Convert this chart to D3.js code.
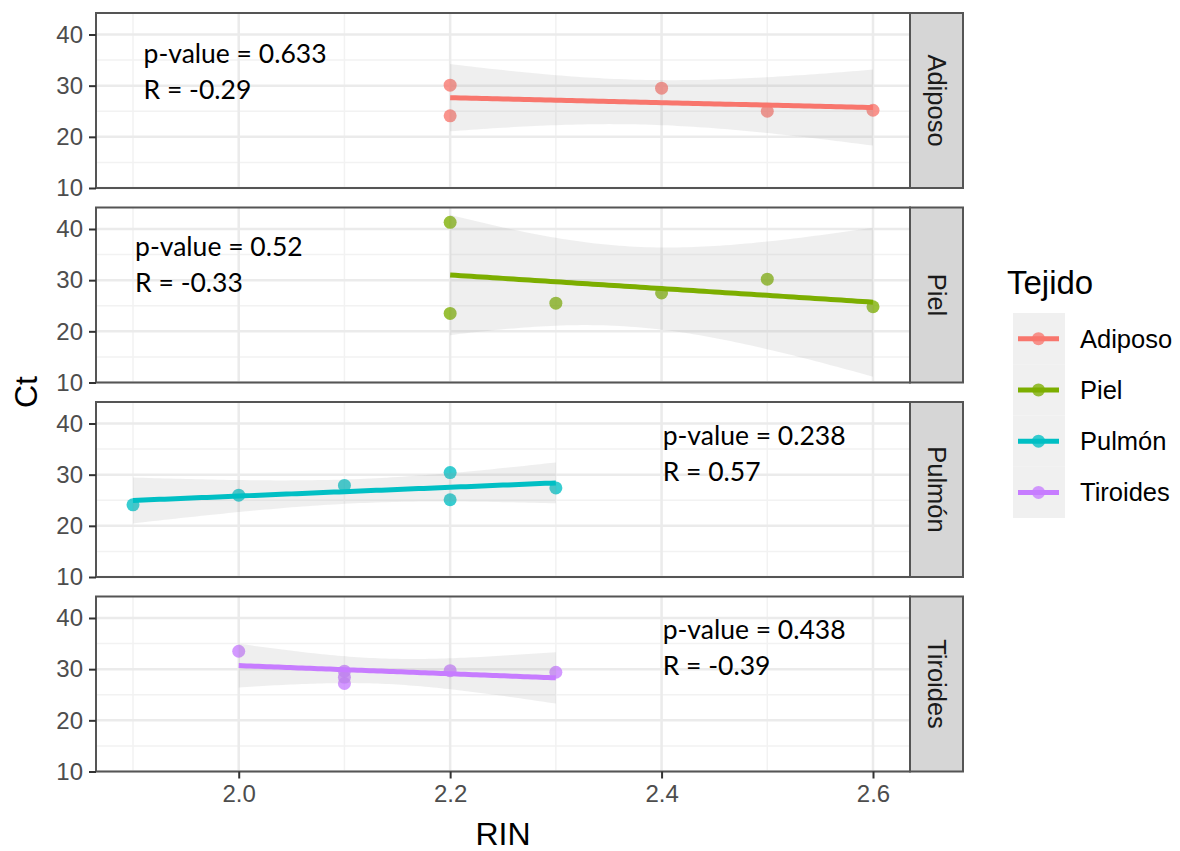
<!DOCTYPE html>
<html>
<head>
<meta charset="utf-8">
<script src="https://cdn.jsdelivr.net/npm/d3@7"></script>
<style>
  body { margin: 0; background: #fff; }
  text { font-family: "Liberation Sans", Arial, sans-serif; }
  .note { font-family: Lato, "Open Sans", sans-serif; }
</style>
</head>
<body>
<div id="wrapper"></div>
<script>
// 1. Data
const tissues = ['Adiposo', 'Piel', 'Pulmón', 'Tiroides']
const colors = ['#F8766D', '#7CAE00', '#00BFC4', '#C77CFF']

const rinAdiposo = [2.2, 2.2, 2.4, 2.5, 2.6]
const ctAdiposo = [30.1, 24.1, 29.5, 25.0, 25.2]
const rinPiel = [2.2, 2.2, 2.3, 2.4, 2.5, 2.6]
const ctPiel = [41.3, 23.5, 25.5, 27.5, 30.2, 24.8]
const rinPulmon = [1.9, 2.0, 2.1, 2.2, 2.2, 2.3]
const ctPulmon = [24.1, 26.0, 27.9, 30.4, 25.1, 27.4]
const rinTiroides = [2.0, 2.1, 2.1, 2.1, 2.2, 2.3]
const ctTiroides = [33.5, 29.6, 28.4, 27.2, 29.7, 29.4]

const pValues = ['0.633', '0.52', '0.238', '0.438']
const rValues = ['-0.29', '-0.33', '0.57', '-0.39']

const xTicks = [2.0, 2.2, 2.4, 2.6]
const xMinor = [1.9, 2.1, 2.3, 2.5]
const yTicks = [10, 20, 30, 40]
const yMinor = [15, 25, 35]

const series = [
  { rin: rinAdiposo, ct: ctAdiposo },
  { rin: rinPiel, ct: ctPiel },
  { rin: rinPulmon, ct: ctPulmon },
  { rin: rinTiroides, ct: ctTiroides }
]

// where the p-value / R notes sit, in RIN / Ct units
const notePos = [
  { x: 1.910, y: 34.4 },
  { x: 1.902, y: 34.7 },
  { x: 2.401, y: 35.8 },
  { x: 2.401, y: 35.9 }
]

// 2. Dimensions
let dimensions = {
  width: 1180,
  height: 851,
  panelLeft: 96,
  panelRight: 910,
  panelTop: 13,
  panelHeight: 175,
  panelStep: 194.5,
  stripWidth: 53
}

// linear fit + 95% band, like geom_smooth(method = "lm")
const tTable = { 3: 3.182, 4: 2.776, 5: 2.571 }
function lmBand(xs, ys) {
  const n = xs.length
  const mx = d3.mean(xs), my = d3.mean(ys)
  const sxx = d3.sum(xs, x => (x - mx) ** 2)
  const sxy = d3.sum(xs, (x, i) => (x - mx) * (ys[i] - my))
  const slope = sxy / sxx
  const icpt = my - slope * mx
  const sse = d3.sum(xs, (x, i) => (ys[i] - (icpt + slope * x)) ** 2)
  const s = Math.sqrt(sse / (n - 2))
  const t = tTable[n - 2]
  const [x0, x1] = d3.extent(xs)
  return d3.range(81).map(k => {
    const x = x0 + (x1 - x0) * k / 80
    const fit = icpt + slope * x
    const se = s * Math.sqrt(1 / n + (x - mx) ** 2 / sxx)
    return { x, fit, lo: fit - t * se, hi: fit + t * se }
  })
}

// 3. Canvas
const svg = d3.select('#wrapper')
  .append('svg')
    .attr('width', dimensions.width)
    .attr('height', dimensions.height)

const defs = svg.append('defs')

const xScale = d3.scaleLinear()
  .domain([1.865, 2.635])
  .range([dimensions.panelLeft, dimensions.panelRight])

tissues.forEach((name, i) => {
  const top = dimensions.panelTop + i * dimensions.panelStep
  const bottom = top + dimensions.panelHeight
  const yScale = d3.scaleLinear()
    .domain([10, 44.2])
    .range([bottom, top])

  defs.append('clipPath').attr('id', `clip${i}`)
    .append('rect')
      .attr('x', dimensions.panelLeft).attr('y', top)
      .attr('width', dimensions.panelRight - dimensions.panelLeft)
      .attr('height', dimensions.panelHeight)

  const g = svg.append('g')

  // grid
  g.selectAll('.minor-y').data(yMinor).enter().append('line')
    .attr('x1', dimensions.panelLeft).attr('x2', dimensions.panelRight)
    .attr('y1', d => yScale(d)).attr('y2', d => yScale(d))
    .attr('stroke', '#F2F2F2').attr('stroke-width', 1.5)
  g.selectAll('.minor-x').data(xMinor).enter().append('line')
    .attr('x1', d => xScale(d)).attr('x2', d => xScale(d))
    .attr('y1', top).attr('y2', bottom)
    .attr('stroke', '#F2F2F2').attr('stroke-width', 1.5)
  g.selectAll('.major-y').data(yTicks).enter().append('line')
    .attr('x1', dimensions.panelLeft).attr('x2', dimensions.panelRight)
    .attr('y1', d => yScale(d)).attr('y2', d => yScale(d))
    .attr('stroke', '#EBEBEB').attr('stroke-width', 2.5)
  g.selectAll('.major-x').data(xTicks).enter().append('line')
    .attr('x1', d => xScale(d)).attr('x2', d => xScale(d))
    .attr('y1', top).attr('y2', bottom)
    .attr('stroke', '#EBEBEB').attr('stroke-width', 2.5)

  // 4. Draw data
  const s = series[i]
  const pts = s.rin.map((r, k) => ({ rin: r, ct: s.ct[k] }))
  const layer = g.append('g').attr('clip-path', `url(#clip${i})`)
  layer.selectAll('circle').data(pts).enter().append('circle')
    .attr('cx', d => xScale(d.rin))
    .attr('cy', d => yScale(d.ct))
    .attr('r', 6.5)
    .attr('fill', colors[i])
    .attr('opacity', 0.78)

  const band = lmBand(s.rin, s.ct)
  layer.append('path')
    .attr('d', d3.area().x(d => xScale(d.x)).y0(d => yScale(d.lo)).y1(d => yScale(d.hi))(band))
    .attr('fill', '#999999')
    .attr('opacity', 0.16)
  layer.append('path')
    .attr('d', d3.line().x(d => xScale(d.x)).y(d => yScale(d.fit))(band))
    .attr('fill', 'none')
    .attr('stroke', colors[i])
    .attr('stroke-width', 5)

  // notes
  const nx = xScale(notePos[i].x), ny = yScale(notePos[i].y)
  g.append('text').attr('class', 'note')
    .attr('x', nx).attr('y', ny)
    .attr('font-size', 26.5).attr('fill', '#000')
    .text(`p-value = ${pValues[i]}`)
  g.append('text').attr('class', 'note')
    .attr('x', nx).attr('y', ny + 36)
    .attr('font-size', 26.5).attr('fill', '#000')
    .text(`R = ${rValues[i]}`)

  // 5. Peripherals
  g.append('rect')
    .attr('x', dimensions.panelLeft).attr('y', top)
    .attr('width', dimensions.panelRight - dimensions.panelLeft)
    .attr('height', dimensions.panelHeight)
    .attr('fill', 'none').attr('stroke', '#555').attr('stroke-width', 2)

  const yAxis = g.append('g')
    .attr('transform', `translate(${dimensions.panelLeft},0)`)
    .call(d3.axisLeft(yScale).tickValues(yTicks).tickSize(7).tickPadding(6))
  yAxis.select('.domain').remove()
  yAxis.selectAll('line').attr('stroke', '#333').attr('stroke-width', 2)
  yAxis.selectAll('text')
    .attr('fill', '#4D4D4D')
    .style('font-size', '24px')
    .style('font-family', '"Liberation Sans", Arial, sans-serif')

  // strip
  const sx = dimensions.panelRight
  g.append('rect')
    .attr('x', sx).attr('y', top)
    .attr('width', dimensions.stripWidth).attr('height', dimensions.panelHeight)
    .attr('fill', '#D6D6D6').attr('stroke', '#555').attr('stroke-width', 2)
  g.append('text')
    .attr('transform', `translate(${sx + dimensions.stripWidth / 2},${top + dimensions.panelHeight / 2}) rotate(90)`)
    .attr('text-anchor', 'middle')
    .attr('dy', '0.35em')
    .attr('font-size', 25.5)
    .attr('fill', '#1A1A1A')
    .text(name)

  if (i === tissues.length - 1) {
    const xAxis = g.append('g')
      .attr('transform', `translate(0,${bottom})`)
      .call(d3.axisBottom(xScale).tickValues(xTicks).tickFormat(d3.format('.1f')).tickSize(7).tickPadding(6))
    xAxis.select('.domain').remove()
    xAxis.selectAll('line').attr('stroke', '#333').attr('stroke-width', 2)
    xAxis.selectAll('text')
      .attr('fill', '#4D4D4D')
      .style('font-size', '24px')
      .style('font-family', '"Liberation Sans", Arial, sans-serif')
  }
})

// axis titles
svg.append('text')
  .attr('x', (dimensions.panelLeft + dimensions.panelRight) / 2)
  .attr('y', 845)
  .attr('text-anchor', 'middle')
  .attr('font-size', 32)
  .text('RIN')

svg.append('text')
  .attr('transform', 'translate(37,392) rotate(-90)')
  .attr('text-anchor', 'middle')
  .attr('font-size', 32)
  .text('Ct')

// legend
const legend = svg.append('g')
legend.append('text')
  .attr('x', 1007).attr('y', 294)
  .attr('font-size', 33)
  .text('Tejido')

const keyH = 51.25
tissues.forEach((name, i) => {
  const cy = 313 + keyH * i + keyH / 2
  legend.append('rect')
    .attr('x', 1013).attr('y', 313 + keyH * i)
    .attr('width', 52).attr('height', keyH)
    .attr('fill', '#F0F0F0')
  legend.append('line')
    .attr('x1', 1018).attr('x2', 1059)
    .attr('y1', cy).attr('y2', cy)
    .attr('stroke', colors[i]).attr('stroke-width', 5)
  legend.append('circle')
    .attr('cx', 1038.5).attr('cy', cy).attr('r', 6.5)
    .attr('fill', colors[i]).attr('opacity', 0.78)
  legend.append('text')
    .attr('x', 1080).attr('y', cy + 9)
    .attr('font-size', 25.5)
    .text(name)
})
</script>
</body>
</html>
